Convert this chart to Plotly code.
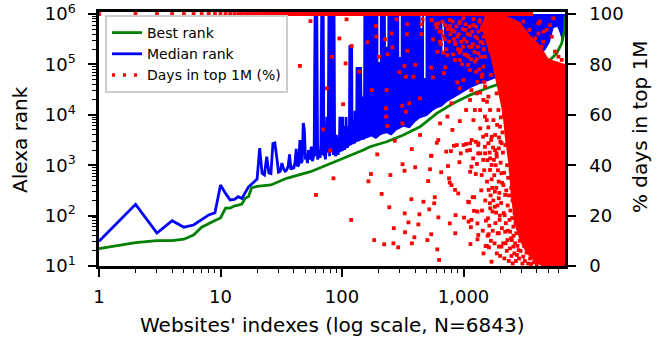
import plotly.graph_objects as go

N_SITES = 6843

# ---------------- Best rank (green line) ----------------
best_idx = [1, 2, 3, 4, 5, 6, 7, 8, 9, 10, 11, 12, 13, 14, 15, 16, 17, 18, 19, 20, 26, 35, 55, 75, 102,
            150, 170, 233, 320, 438, 602, 825, 1130, 1552, 2127, 2917, 3530, 4540, 5150, 5850, 6430,
            6780, 6843]
best_rank = [22, 29, 32, 32, 34, 41, 59, 68, 80, 90, 141, 141, 155, 162, 170, 223, 237, 355, 370, 380, 405,
             550, 743, 1000, 1370, 2000, 2330, 2920, 3980, 5800, 10700, 16900, 24600, 33600, 43500,
             57000, 66500, 97000, 123000, 166000, 263000, 480000, 890000]

# ---------------- Median rank (blue) ----------------
med_idx = list(range(1, 159))
med_rank = [31, 167, 45, 79, 59, 65, 83, 103, 114, 405, 276, 204, 210, 237, 219, 283, 372, 420, 480, 530,
            2190, 690, 640, 1480, 700, 680, 2700, 2770, 1480, 730, 760, 1100, 850, 760, 800, 950, 1640,
            820, 900, 850, 1100, 2100, 950, 1000, 3160, 1100, 1200, 6900, 5000, 1300, 1500, 1100, 2000,
            1300, 1800, 2330, 1200, 1400, 2000, 1000000, 1500, 1000000, 1300, 1600, 2000, 1400, 2700,
            1000000, 1600, 1000000, 1500, 2000, 1300, 2000, 9100, 1800, 2200, 1000000, 1500, 1000000,
            2000, 1000000, 1800, 1000000, 1600, 1000000, 1700, 3000, 1500, 4000, 1800, 2500, 1600, 3500,
            1800, 9100, 2000, 2400, 7000, 1900, 9100, 2100, 2300, 6000, 2000, 3000, 2200, 9000, 2400,
            4000, 2200, 3000, 2500, 6000, 2600, 240000, 2500, 240000, 2800, 240000, 3000, 5000, 2600,
            8000, 2800, 4000, 2700, 12000, 2900, 5000, 3000, 7000, 89000, 3000, 89000, 3200, 89000, 3000,
            89000, 3200, 6000, 89000, 3300, 5000, 3200, 23000, 3300, 23000, 3400, 23000, 3400, 8000,
            3500, 1000000, 3600, 1000000, 3600, 1000000]

# dense oscillation band of the median rank (86 .. 158)
band_idx = [86, 95, 105, 115, 125, 135, 145, 158]
band_low = [1500, 1800, 2000, 2400, 2700, 3000, 3200, 3400]
band_high = [3000, 3500, 4500, 5500, 6000, 6500, 7000, 8000]

# fully dense region of the median rank (158 .. N): lower envelope, up to 1e6
dense_idx = [158, 175, 190, 210, 233, 255, 280, 320, 360, 400, 438, 500, 560, 602, 660, 730, 826, 900,
             1000, 1130, 1300, 1556, 1800, 2100, 2500, 3000, 3530, 4100, 4700, 5150, 5500, 5900, 6200,
             6500, 6700, 6843]
dense_low = [3400, 3700, 3300, 4000, 4300, 3900, 4900, 5800, 5400, 7200, 8500, 9500, 12000, 13500,
             14500, 18000, 21300, 24000, 28000, 33800, 39000, 45600, 52000, 60000, 70000, 85000,
             110000, 150000, 190000, 280000, 520000, 560000, 420000, 280000, 330000, 600000]
dense_high = [1000000] * len(dense_idx)

# thin white gaps inside the dense median region
gap_idx = [202, 233, 300, 450, 480, 680]
gap_low = [112000, 224000, 141000, 525000, 53700, 170000]
gap_high = [1000000, 1000000, 1000000, 1000000, 1000000, 660000]

# ---------------- Days in top 1M (%) (red) ----------------
days_full_last_idx = 3600  # indexes at 100 % unless listed below
days_idx = [45, 55, 61, 70, 75, 80, 83, 85, 95, 102, 107, 109, 119, 120, 139, 162, 165, 173, 176, 184,
            190, 192, 195, 202, 212, 222, 226, 230, 231, 233, 236, 237, 245, 250, 256, 260, 265, 267,
            272, 281, 290, 297, 313, 314, 315, 326, 327, 328, 330, 335, 336, 342, 344, 345, 352, 358,
            372, 375, 376, 387, 394, 400, 401, 425, 433, 438, 439, 450, 451, 460, 468, 504, 512, 522,
            530, 540, 541, 542, 545, 560, 574, 580, 602, 603, 608, 620, 621, 630, 640, 641, 655, 675,
            680, 690, 706, 720, 736, 737, 745, 760, 770, 771, 775, 788, 795, 796, 810, 833, 834, 850,
            851, 855, 860, 880, 890, 905, 925, 930, 931, 932, 935, 950, 990, 1000, 1001, 1010, 1050,
            1051, 1060, 1070, 1090, 1091, 1100, 1110, 1130, 1131, 1132, 1133, 1134, 1140, 1150, 1160,
            1161, 1162, 1190, 1200, 1221, 1222, 1240, 1260, 1261, 1290, 1300, 1301, 1302, 1303, 1320,
            1321, 1322, 1370, 1371, 1372, 1410, 1450, 1451, 1500, 1501, 1520, 1560, 1561, 1562, 1590,
            1610, 1611, 1620, 1650, 1651, 1660, 1700, 1701, 1702, 1730, 1780, 1810, 1811, 1850, 1870,
            1950, 1951, 1952, 1953, 1954, 1980, 2010, 2050, 2051, 2130, 2180, 2200, 2201, 2220, 2300,
            2390, 2420, 2500, 2570, 2571, 2750, 2840, 3100, 3300, 3530,
            547, 621, 661, 704, 774, 800, 852, 891, 924, 948, 997, 1029, 1062, 1096, 1135, 1167, 1205,
            1244, 1268, 1299, 1325, 1368, 1412, 1439, 1456, 1503, 1552, 1601, 1652, 1674, 1738, 1762,
            1817, 1852, 1875, 1936, 1973, 2023, 2061, 2100, 2127, 2197, 2240, 2266, 2296, 2340, 2384,
            2654, 2917, 3107, 3311, 3483, 3875, 4130, 4397, 4545,
            1413, 1504, 1602, 1653, 1763, 1706, 1818, 1876, 1937, 1996, 1877, 2062, 1457, 1553, 1603,
            1654, 1283, 1369, 1206, 1168, 1326, 1505,
            4265, 5150, 4131, 4830, 5480, 4540, 5320, 3760, 5660, 6040, 6430,
            1400, 1420, 1440, 1460, 1480, 1510, 1530, 1540, 1570, 1580, 1600, 1630, 1640, 1670, 1680,
            1690, 1720, 1740, 1750, 1760, 1790, 1800, 1820, 1830, 1840, 1860, 1880, 1890, 1900, 1910,
            1920, 1960, 1970, 1990, 2000, 2020, 2030, 2040, 2070, 2080, 2090, 2110, 2120, 2140, 2150,
            2160, 2170, 2210, 2230, 2250, 2260, 2270, 2280, 2310, 2320, 2330, 2350, 2360, 2370, 2400,
            2410, 2430, 2440, 2460, 2470, 2480, 2510, 2520, 2530, 2540, 2550, 2580, 2600, 2620, 2630,
            2660, 2680, 2700, 2720, 2780, 2800, 2860, 2900, 2950, 3000, 3050, 3150, 3200, 3400, 3600,
            3800, 4000,
            562, 590, 610, 632, 650, 670, 700, 722, 740, 762, 780, 812, 820, 840, 862, 870, 900, 915,
            940, 960, 975, 985, 1012, 1020, 1040, 1080, 1112, 1120, 1152, 1180, 1192, 1210, 1230, 1250,
            1270, 1280, 1310, 1330, 1340, 1350, 1380, 1390, 1422, 1430, 1462, 1470, 1482]
days_pct = [79.4, 97.2, 28.2, 54.2, 70.5, 45.8, 83.0, 34.8, 90.3, 64.2, 80.4, 97.9, 18.3, 87.3, 77.1,
            88.8, 33.6, 36.5, 69.8, 10.3, 95.2, 91.0, 44.3, 83.0, 28.6, 8.6, 90.0, 62.6, 59.3, 69.8,
            55.6, 84.0, 23.3, 36.1, 92.3, 86.8, 9.0, 15.0, 49.7, 97.9, 7.4, 76.9, 63.6, 56.6, 40.4,
            79.4, 37.8, 20.9, 13.4, 75.1, 61.2, 92.0, 96.0, 85.4, 17.3, 64.6, 26.5, 46.4, 9.0, 75.1,
            11.4, 39.2, 79.8, 16.5, 20.5, 66.5, 52.0, 95.9, 92.0, 97.9, 25.5, 10.3, 33.7, 22.5, 38.4,
            78.8, 43.7, 12.6, 43.8, 74.9, 24.9, 27.3, 94.7, 48.9, 6.6, 50.0, 19.3, 2.4, 89.0, 56.6,
            37.2, 91.3, 84.7, 76.5, 78.8, 45.4, 83.7, 59.3, 39.7, 34.8, 33.1, 16.9, 95.2, 45.6, 64.6,
            32.1, 54.0, 90.0, 47.7, 81.7, 30.2, 13.0, 20.2, 48.0, 72.9, 28.8, 41.2, 70.5, 84.7, 57.5,
            81.7, 44.7, 87.0, 73.8, 48.0, 19.2, 61.9, 48.4, 83.7, 45.8, 79.8, 25.5, 17.6, 25.3, 77.8,
            46.0, 65.9, 48.7, 37.4, 8.7, 15.4, 69.8, 18.3, 39.4, 27.3, 42.7, 21.9, 27.3, 61.9, 49.3,
            36.5, 40.5, 73.1, 21.6, 16.9, 10.6, 44.7, 48.0, 12.3, 68.8, 54.6, 44.7, 36.1, 51.3, 42.1,
            59.3, 47.3, 7.9, 65.2, 33.5, 7.9, 18.9, 30.2, 12.6, 7.4, 24.9, 38.1, 22.9, 1.7, 34.4, 40.1,
            21.6, 42.1, 23.5, 29.5, 21.2, 44.7, 26.9, 33.5, 46.7, 13.0, 7.7, 18.3, 49.3, 36.8, 7.7,
            32.1, 20.2, 28.2, 13.6, 9.0, 10.3, 18.3, 13.6, 10.3, 7.7, 15.6, 4.4, 6.3, 3.7, 5.3, 3.0,
            97.6, 96.3, 93.0, 95.6, 97.6, 93.7, 88.4, 91.0, 96.3, 85.7, 98.3, 93.7, 89.0, 83.1, 91.7,
            87.0, 95.6, 81.1, 77.1, 90.4, 84.4, 97.6, 93.7, 88.4, 79.1, 83.1, 91.0, 95.6, 85.7, 75.8,
            93.7, 88.4, 81.8, 97.0, 91.0, 85.1, 77.8, 94.3, 88.4, 83.1, 75.1, 97.6, 91.7, 87.0, 80.4,
            95.0, 71.2, 95.0, 91.0, 97.0, 88.4, 93.7, 90.4, 96.3, 87.0, 93.0,
            75.1, 71.2, 67.2, 61.9, 57.9, 51.3, 46.0, 68.5, 61.9, 55.3, 43.4, 48.7, 65.9, 57.9, 48.7,
            42.7, 68.5, 61.9, 57.9, 50.0, 48.7, 44.7,
            97.0, 95.6, 92.3, 93.7, 98.3, 89.0, 91.0, 88.4, 85.1, 83.1, 81.8,
            30, 22, 14, 5, 38, 26, 18, 52, 42, 12, 55, 16, 45, 28, 10,
            50, 31, 14, 47, 26, 36, 9, 52, 17, 40, 31, 5, 56, 24, 13,
            38, 51, 29, 20, 4, 41, 59, 25, 15, 33, 53, 45, 9, 21, 60,
            37, 3, 48, 17, 30, 55, 6, 40, 24, 14, 35, 52, 2, 28, 44,
            7, 22, 38, 11, 31, 4, 19, 42, 26, 1, 35, 12, 29, 5, 21,
            9, 17, 2, 13, 8, 15, 3, 10, 6, 12, 1, 8, 2, 1, 0.8,
            1.5, 0.5,
            90, 96, 85, 93, 88, 97, 90, 86, 94, 89, 92, 97, 84, 93, 88, 95, 86, 92,
            97, 89, 80, 94, 90, 84, 96, 92, 87, 95, 82, 93, 88, 98, 85, 91,
            95, 82, 87, 93, 78, 97, 89, 83, 95, 76, 91, 86, 73]

# outline of the saturated (solid) cloud of red points at the high indexes
core_idx = [6843, 4400, 3900, 3300, 2900, 2600, 2450, 2350, 2200, 2100, 1950, 1800, 1650, 1500, 1400,
            1500, 2197, 2917, 3525, 4265, 4960, 5450, 5995, 6843]
core_pct = [0, 0, 1.5, 5, 10, 18, 28, 40, 50, 60, 68, 76, 84, 90, 95, 99.5, 99.5, 96.8, 91.7, 87.7,
            82.5, 81.7, 81.0, 80.2]

x_tick_vals = [1, 10, 100, 1000]
x_tick_text = ["1", "10", "100", "1,000"]
y_tick_vals = [10, 100, 1000, 10000, 100000, 1000000]
y_tick_text = ["10<sup>1</sup>", "10<sup>2</sup>", "10<sup>3</sup>", "10<sup>4</sup>",
               "10<sup>5</sup>", "10<sup>6</sup>"]
y2_tick_vals = [0, 20, 40, 60, 80, 100]

GREEN = "#008000"
BLUE = "#0000ff"
RED = "#ff0000"

# ---------------- build ----------------
fig = go.Figure()

fig.add_trace(go.Scatter(x=dense_idx + dense_idx[::-1], y=dense_low + dense_high[::-1],
                         mode="lines", fill="toself", fillcolor=BLUE, line=dict(width=0, color=BLUE),
                         showlegend=False, hoverinfo="skip", yaxis="y"))
fig.add_trace(go.Scatter(x=band_idx + band_idx[::-1], y=band_low + band_high[::-1],
                         mode="lines", fill="toself", fillcolor=BLUE, line=dict(width=0, color=BLUE),
                         showlegend=False, hoverinfo="skip", yaxis="y"))
fig.add_trace(go.Scatter(x=med_idx, y=med_rank, mode="lines", name="Median rank",
                         line=dict(color=BLUE, width=2.8), legendrank=2, yaxis="y"))
gx, gy = [], []
for i, lo, hi in zip(gap_idx, gap_low, gap_high):
    gx += [i, i, None]
    gy += [lo, hi, None]
fig.add_trace(go.Scatter(x=gx, y=gy, mode="lines", line=dict(color="white", width=1.5),
                         showlegend=False, hoverinfo="skip", yaxis="y"))
fig.add_trace(go.Scatter(x=best_idx, y=best_rank, mode="lines", name="Best rank",
                         line=dict(color=GREEN, width=2.8), legendrank=1, yaxis="y"))

fig.add_trace(go.Scatter(x=core_idx, y=core_pct, mode="lines", fill="toself", fillcolor=RED,
                         line=dict(width=0, color=RED), showlegend=False, hoverinfo="skip",
                         yaxis="y2"))
listed = set(days_idx)
red_x = [i for i in range(1, days_full_last_idx + 1) if i not in listed] + days_idx
red_y = [100.0] * (len(red_x) - len(days_idx)) + days_pct
fig.add_trace(go.Scatter(x=red_x, y=red_y, mode="markers",
                         marker=dict(symbol="square", size=3.8, color=RED, line=dict(width=0)),
                         showlegend=False, yaxis="y2"))
fig.add_trace(go.Scatter(x=[None], y=[None], mode="lines", name="Days in top 1M (%)",
                         line=dict(color=RED, width=3.5, dash="3px,8px"), legendrank=3, yaxis="y2"))

minor_x = [m * 10 ** e for e in range(0, 4) for m in range(2, 10) if m * 10 ** e <= N_SITES]
minor_y = [m * 10 ** e for e in range(1, 6) for m in range(2, 10)]

PL, PR, PT, PB = 99, 565, 12, 266
W, H = 667, 337
pw, ph = PR - PL, PB - PT

def px2paper_x(p):
    return (p - PL) / pw

def py2paper_y(p):
    return (PB - p) / ph

fig.update_layout(
    width=W, height=H,
    margin=dict(l=PL, r=W - PR, t=PT, b=H - PB, autoexpand=False),
    paper_bgcolor="white", plot_bgcolor="white",
    font=dict(family="DejaVu Sans", size=18, color="black"),
    showlegend=True,
    legend=dict(x=px2paper_x(105), y=py2paper_y(15), xanchor="left", yanchor="top",
                bgcolor="white", bordercolor="#cccccc", borderwidth=2,
                font=dict(size=14, family="DejaVu Sans"), tracegroupgap=0),
    xaxis=dict(type="log", range=[0, 3.8352], showgrid=False, zeroline=False, automargin=False,
               tickvals=x_tick_vals, ticktext=x_tick_text, ticks="outside", ticklen=8, tickwidth=1.8,
               tickcolor="black", showline=True, linewidth=2.5, linecolor="black", mirror=True,
               ticklabelstandoff=5,
               minor=dict(tickvals=minor_x, ticks="outside", ticklen=4, tickwidth=1.2,
                          tickcolor="black", showgrid=False),
               tickfont=dict(size=18)),
    yaxis=dict(type="log", range=[1, 6.04], showgrid=False, zeroline=False, automargin=False,
               tickvals=y_tick_vals, ticktext=y_tick_text, ticks="outside", ticklen=8, tickwidth=1.8,
               tickcolor="black", showline=True, linewidth=2.5, linecolor="black",
               ticklabelstandoff=9,
               minor=dict(tickvals=minor_y, ticks="outside", ticklen=4, tickwidth=1.2,
                          tickcolor="black", showgrid=False),
               tickfont=dict(size=18)),
    yaxis2=dict(overlaying="y", side="right", range=[0, 100.8], showgrid=False, zeroline=False,
                automargin=False, tickvals=y2_tick_vals, ticks="outside", ticklen=8, tickwidth=1.8,
                tickcolor="black", showline=True, linewidth=2.5, linecolor="black",
                ticklabelstandoff=10, tickfont=dict(size=18)),
    annotations=[
        dict(text="Websites' indexes (log scale, N=6843)", xref="paper", yref="paper",
             x=px2paper_x(332), y=py2paper_y(325), xanchor="center", yanchor="middle",
             showarrow=False, font=dict(size=20)),
        dict(text="Alexa rank", xref="paper", yref="paper", textangle=-90,
             x=px2paper_x(20), y=py2paper_y(140), xanchor="center", yanchor="middle",
             showarrow=False, font=dict(size=20)),
        dict(text="% days in top 1M", xref="paper", yref="paper", textangle=-90,
             x=px2paper_x(640), y=py2paper_y(127), xanchor="center", yanchor="middle",
             showarrow=False, font=dict(size=20)),
    ],
)

fig.write_html(
    "out.html",
    config={"displayModeBar": False},
    post_script="document.body.style.margin='0';document.body.style.overflow='hidden';",
)
